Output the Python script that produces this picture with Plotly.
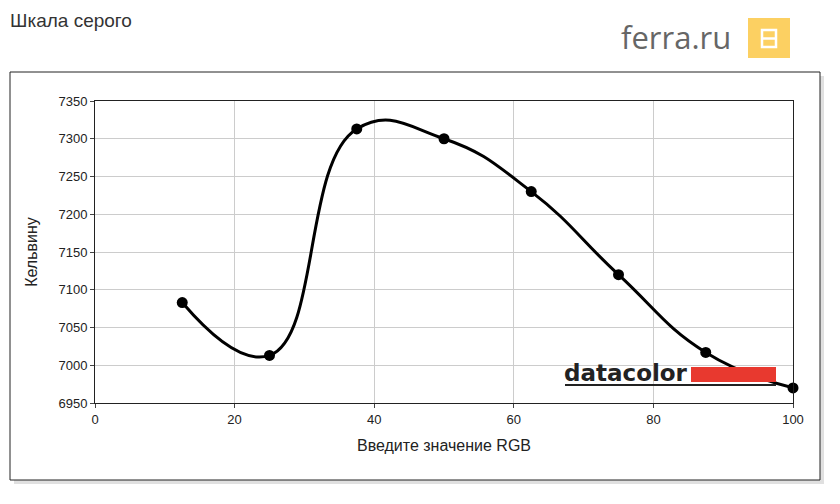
import plotly.graph_objects as go

x_vals = [12.5, 25, 37.5, 50, 62.5, 75, 87.5, 100]
y_vals = [7083, 7013, 7313, 7300, 7230, 7120, 7017, 6970]
x_ticks = [0, 20, 40, 60, 80, 100]
y_ticks = [6950, 7000, 7050, 7100, 7150, 7200, 7250, 7300, 7350]

O = 8  # page body margin offset
L, R, T, B = 95 - O, 793 - O, 101 - O, 403 - O
def px(x): return (x - O - L) / (R - L)
def py(y): return (B - (y - O)) / (B - T)

fig = go.Figure(go.Scatter(x=x_vals, y=y_vals, mode="lines+markers",
    line=dict(shape="spline", smoothing=1.3, color="black", width=3),
    marker=dict(size=11, color="black"), cliponaxis=False))

def rect(x0, y0, x1, y1, **kw):
    d = dict(type="rect", xref="paper", yref="paper", x0=px(x0), x1=px(x1), y0=py(y1), y1=py(y0))
    d.update(kw)
    return d

shapes = [
    rect(14, 76, 824, 484, line=dict(width=0), fillcolor="rgba(0,0,0,0.12)", layer="below"),
    rect(10, 72, 820, 480, line=dict(color="#222", width=1), fillcolor="white", layer="below"),
    rect(748, 18, 790, 58, line=dict(width=0), fillcolor="#fcd062"),
    rect(762, 30, 776, 47, line=dict(color="white", width=2.5), fillcolor="rgba(0,0,0,0)"),
    dict(type="line", xref="paper", yref="paper", x0=px(762), x1=px(776), y0=py(38.5), y1=py(38.5),
         line=dict(color="white", width=2.5)),
    rect(691, 367, 776, 382, line=dict(width=0), fillcolor="#e8392f"),
    dict(type="line", xref="paper", yref="paper", x0=px(565), x1=px(776), y0=py(385), y1=py(385),
         line=dict(color="#222", width=2)),
]
ann = [
    dict(text="Шкала серого", x=px(8), y=py(20), xref="paper", yref="paper", showarrow=False,
         xanchor="left", yanchor="middle", font=dict(size=19, color="#333", family="Liberation Sans")),
    dict(text="ferra.ru", x=px(733), y=py(37), xref="paper", yref="paper", showarrow=False,
         xanchor="right", yanchor="middle", font=dict(size=31, color="#666", family="Open Sans")),
    dict(text="<b>datacolor</b>", x=px(562), y=py(373), xref="paper", yref="paper", showarrow=False,
         xanchor="left", yanchor="middle", font=dict(size=23, color="#222", family="DejaVu Sans")),
]

fig.update_layout(width=840, height=504,
    margin=dict(l=L, r=840-R, t=T, b=504-B, autoexpand=False),
    paper_bgcolor="white", plot_bgcolor="white", showlegend=False,
    shapes=shapes, annotations=ann, font=dict(family="Liberation Sans", size=13, color="#222"),
    xaxis=dict(range=[0, 100], tickvals=x_ticks, showgrid=True, gridcolor="#ccc",
               linecolor="#222", mirror=True, showline=True, ticks="outside", ticklen=4,
               title=dict(text="Введите значение RGB", standoff=14), zeroline=False),
    yaxis=dict(range=[6950, 7350], tickvals=y_ticks, showgrid=True, gridcolor="#ccc",
               linecolor="#222", mirror=True, showline=True, ticks="outside", ticklen=4,
               title=dict(text="Кельвину", standoff=16), zeroline=False))
fig.write_html("out.html")
